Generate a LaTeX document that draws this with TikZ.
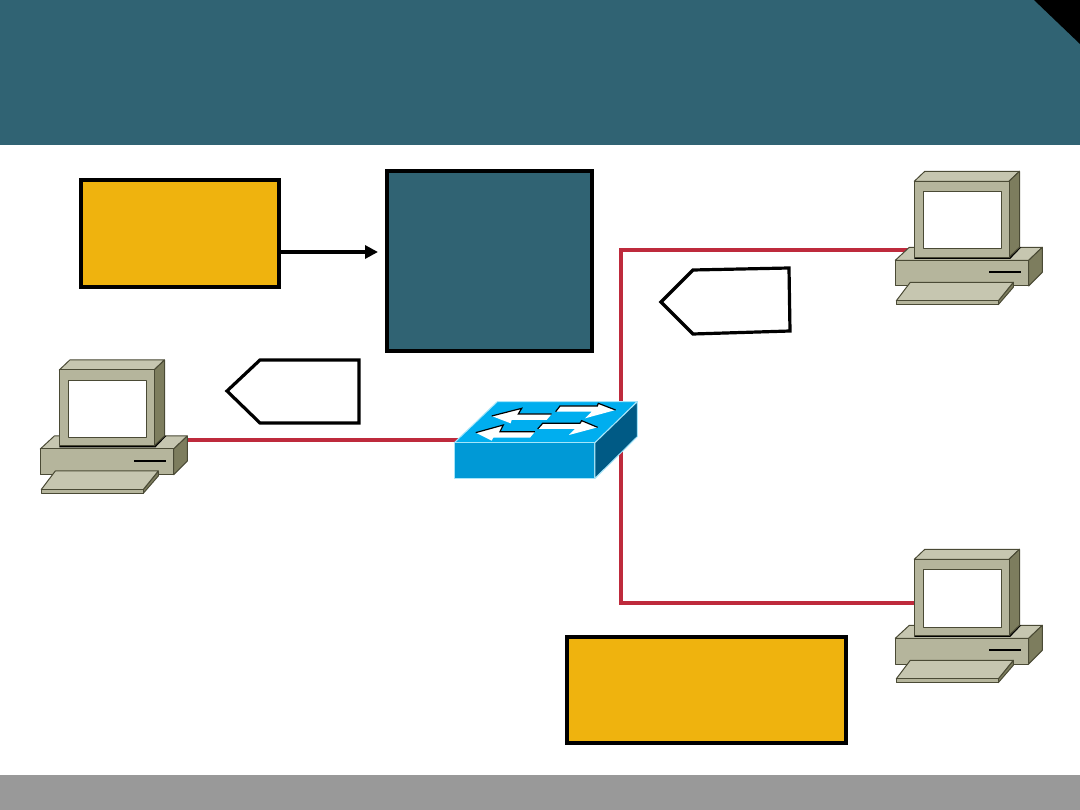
\documentclass[tikz,border=0pt]{standalone}
\usetikzlibrary{arrows.meta,calc}
\definecolor{slate}{HTML}{306373}
\definecolor{amber}{HTML}{EFB30E}
\definecolor{cable}{HTML}{BE2A3C}
\definecolor{footer}{HTML}{999999}
\definecolor{caseFront}{HTML}{B5B59C}
\definecolor{caseTop}{HTML}{C6C6B0}
\definecolor{caseSide}{HTML}{7D7D5E}
\definecolor{caseLine}{HTML}{4A4A35}
\definecolor{swTop}{HTML}{00AEEF}
\definecolor{swFront}{HTML}{0099D6}
\definecolor{swSide}{HTML}{005A85}
\definecolor{swEdge}{HTML}{A5E5FA}
\pgfdeclarelayer{page}
\pgfdeclarelayer{cabling}
\pgfsetlayers{page,cabling,main}
\tikzset{
  x=1pt,y=-1pt,
  panel/.style={draw=black,line width=3.5pt,outer sep=0pt,inner sep=0pt,anchor=north west},
  tagshape/.style={draw=black,line width=3.2pt,fill=white,line join=miter},
  link/.style={draw=cable,line width=4.4pt,line join=miter},
  casepart/.style={draw=caseLine,line width=1pt,line join=round},
  computer/.pic={
    % base unit
    \draw[casepart,fill=caseTop] (-19,79) -- (-5,66) -- (128,66) -- (114.4,79) -- cycle;
    \draw[casepart,fill=caseFront] (-19,79) rectangle (114.4,104.7);
    \draw[casepart,fill=caseSide] (114.4,79) -- (128,66) -- (128,91) -- (114.4,104.7) -- cycle;
    \draw[black,line width=2pt] (74.7,91) -- (106.7,91);
    % keyboard
    \draw[casepart,fill=caseSide] (84,119.5) -- (99,101) -- (99,106) -- (84,123.3) -- cycle;
    \draw[casepart,fill=caseTop] (-18,119.5) -- (-4,101) -- (99,101) -- (84,119.5) -- cycle;
    \draw[casepart,fill=caseFront] (-18,119.5) rectangle (84,123.3);
    % monitor
    \fill[black] (0,75) -- (0,77.5) -- (96,77.5) -- (107,66) -- (95,66) -- cycle;
    \draw[casepart,fill=caseTop] (0,0) -- (10.5,-10) -- (105.2,-10) -- (94.7,0) -- cycle;
    \draw[casepart,fill=caseSide] (94.7,0) -- (105.2,-10) -- (105.2,66) -- (94.7,76) -- cycle;
    \draw[casepart,fill=caseFront] (0,0) rectangle (94.7,76);
    \draw[casepart,fill=white] (9,10.3) rectangle (87.4,67.7);
  },
  networkswitch/.pic={
    \begin{scope}[x=0.3333pt,y=-0.3333pt]
      \draw[swEdge,line width=1pt,line join=round,fill=swTop] (43,158) -- (172,35) -- (592,35) -- (465,158) -- cycle;
      \draw[swEdge,line width=1pt,line join=round,fill=swFront] (43,158) rectangle (465,265);
      \draw[swEdge,line width=1pt,line join=round,fill=swSide] (465,158) -- (592,35) -- (592,140) -- (465,265) -- cycle;
      % direction arrows
      \fill[white] (155,78) -- (245,55) -- (235,72) -- (335,72) -- (320,90) -- (215,90) -- (212,100) -- cycle;
      \draw[black,line width=1.2pt] (155,78) -- (245,55) -- (235,72) -- (335,72);
      \fill[white] (527,60) -- (475,40) -- (472,48) -- (360,48) -- (347,65) -- (455,65) -- (435,85) -- cycle;
      \draw[black,line width=1.2pt] (347,65) -- (360,48) -- (472,48) -- (475,40) -- (527,60);
      \fill[white] (107,128) -- (190,105) -- (180,125) -- (285,125) -- (270,143) -- (160,143) -- (155,152) -- cycle;
      \draw[black,line width=1.2pt] (107,128) -- (190,105) -- (180,125) -- (285,125);
      \fill[white] (473,112) -- (425,92) -- (420,100) -- (308,100) -- (293,117) -- (405,117) -- (387,135) -- cycle;
      \draw[black,line width=1.2pt] (293,117) -- (308,100) -- (420,100) -- (425,92) -- (473,112);
      \coordinate (-west) at (60,150);
      \coordinate (-north) at (540,100);
      \coordinate (-south) at (540,180);
    \end{scope}
  },
}
\begin{document}
\begin{tikzpicture}
  \useasboundingbox (0,0) rectangle (1080,810);
  % page furniture
  \begin{pgfonlayer}{page}
    \fill[white] (0,0) rectangle (1080,810);
    \fill[slate] (0,0) rectangle (1080,145);
    \fill[black] (1034,0) -- (1080,0) -- (1080,44) -- cycle;
    \fill[footer] (0,775) rectangle (1080,810);
  \end{pgfonlayer}

  % panels
  \node[panel,fill=amber,minimum width=198pt,minimum height=107pt] (amberLeft) at (81,180) {};
  \node[panel,fill=slate,minimum width=205pt,minimum height=180pt] (slatePanel) at (387,171) {};
  \node[panel,fill=amber,minimum width=279pt,minimum height=106pt] (amberRight) at (567,637) {};
  \coordinate (arrowLevel) at (0,252);
  \draw[black,line width=3.2pt,-{Triangle[length=13pt,width=13pt]},shorten >=9pt]
    (amberLeft.east |- arrowLevel) -- (slatePanel.west |- arrowLevel);

  % pentagon tags
  \draw[tagshape] (227,391) -- (260,360) -- (359,360) -- (359,423) -- (260,423) -- cycle;
  \draw[tagshape] (661,302) -- (693,270) -- (789,268) -- (790,331) -- (693,334) -- cycle;

  % devices
  \pic (pcLeft) at (59.3,370) {computer};
  \pic (pcTop) at (914.3,181.3) {computer};
  \pic (pcBottom) at (914.3,559.3) {computer};
  \pic (hub) at (440,390) {networkswitch};

  % cabling runs beneath the devices
  \coordinate (leftPort) at (175,440.3);
  \coordinate (topPort) at (925,250);
  \coordinate (bottomPort) at (925,603);
  \coordinate (riser) at (621,0);
  \begin{pgfonlayer}{cabling}
    \draw[link] (leftPort) -- (leftPort -| hub-west);
    \draw[link] (riser |- hub-north) -- (riser |- topPort) -- (topPort);
    \draw[link] (riser |- hub-south) -- (riser |- bottomPort) -- (bottomPort);
  \end{pgfonlayer}
\end{tikzpicture}
\end{document}
